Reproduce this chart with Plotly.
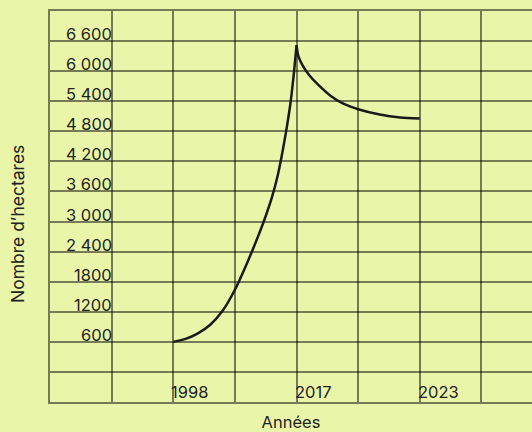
import plotly.graph_objects as go

# Data (x in grid-column units: tick labels are placed at columns 2, 4, 6)
tick_pos_x = [2, 4, 6]
tick_labels_x = ["1998", "2017", "2023"]

y_tick_vals = [600, 1200, 1800, 2400, 3000, 3600, 4200, 4800, 5400, 6000, 6600]
y_tick_text = ["600", "1200", "1800", "2 400", "3 000", "3 600", "4 200", "4 800", "5 400", "6 000", "6 600"]

rise_x = [2.0, 2.2, 2.4, 2.6, 2.8, 3.0, 3.2, 3.4, 3.5, 3.6, 3.7, 3.8, 3.9, 3.95, 4.0]
rise_y = [600, 660, 770, 940, 1220, 1640, 2180, 2780, 3110, 3480, 3950, 4580, 5350, 5880, 6520]

decay_x = [4.0, 4.03, 4.1, 4.2, 4.35, 4.55, 4.75, 5.0, 5.35, 5.68, 6.0]
decay_y = [6520, 6300, 6110, 5930, 5730, 5510, 5355, 5240, 5134, 5075, 5054]

BG = "#e9f6aa"
GRID = "rgba(0,0,0,0.5)"
FONT = "Inter"
TXT = "#222222"

fig = go.Figure()
for xs, ys in [(rise_x, rise_y), (decay_x, decay_y)]:
    fig.add_trace(go.Scatter(x=xs, y=ys, mode="lines",
                             line=dict(color="#1a1a1a", width=2.5, shape="spline", smoothing=0.7),
                             hoverinfo="skip", showlegend=False))

# y tick labels inside the grid
for v, t in zip(y_tick_vals, y_tick_text):
    fig.add_annotation(x=1, y=v, text=t, xref="x", yref="y", showarrow=False,
                       xanchor="right", yanchor="bottom", yshift=-4, xshift=1,
                       borderpad=0, font=dict(family=FONT, size=16.5, color=TXT))
# x tick labels in bottom row
for p, t in zip(tick_pos_x, tick_labels_x):
    fig.add_annotation(x=p, y=-600, text=t, xref="x", yref="y", showarrow=False,
                       xanchor="left", yanchor="bottom", yshift=-1, xshift=-3,
                       borderpad=0, font=dict(family=FONT, size=16.5, color=TXT))

fig.add_annotation(x=(18 - 50) / 482, y=(402 - 224) / 391, xref="paper", yref="paper",
                   xanchor="center", yanchor="middle",
                   text="Nombre d’hectares", showarrow=False, textangle=-90,
                   font=dict(family=FONT, size=17.5, color=TXT))

fig.update_layout(
    width=532, height=432,
    margin=dict(l=50, r=0, t=11, b=30),
    paper_bgcolor=BG, plot_bgcolor=BG,
    xaxis=dict(range=[0, 7.82], dtick=1, tick0=0, showgrid=True, gridcolor=GRID, gridwidth=2,
               showticklabels=False, zeroline=False, showline=True, mirror=True,
               linecolor=GRID, linewidth=2, ticks="",
               title=dict(text="Années", font=dict(family=FONT, size=16.5, color=TXT),
                          standoff=15)),
    yaxis=dict(range=[-600, 7200], dtick=600, tick0=0, showgrid=True, gridcolor=GRID, gridwidth=2,
               showticklabels=False, zeroline=False, showline=True, linecolor=GRID, linewidth=2,
               ticks=""),
)

fig.write_html("out.html", config={"displayModeBar": False},
               post_script="document.body.style.margin='0';document.body.style.background='#e9f6aa';")
